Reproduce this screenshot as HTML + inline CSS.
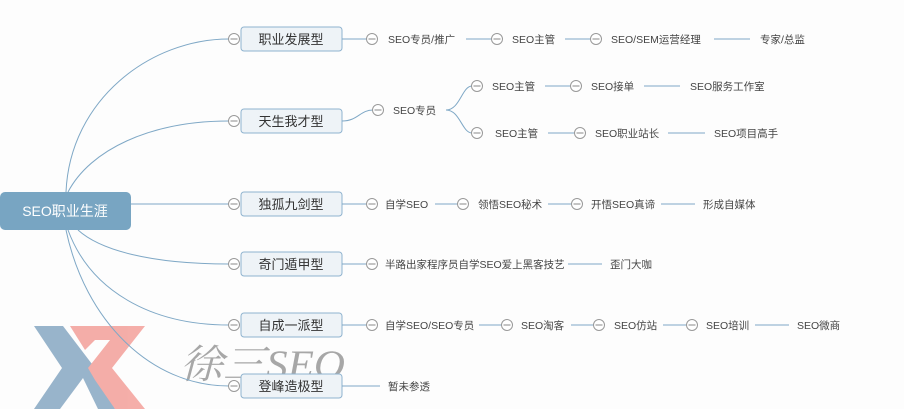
<!DOCTYPE html>
<html><head><meta charset="utf-8"><style>
html,body{margin:0;padding:0;background:#fdfdfd;}
svg{display:block;font-family:"Liberation Sans","Noto Sans CJK SC",sans-serif;}
.t{font-size:10.5px;fill:#444;}
.b{font-size:13px;fill:#333;}
.l{stroke:#7fa8c6;stroke-width:1;fill:none;}
.c{fill:#fff;stroke:#999;stroke-width:1;}
</style></head><body>
<svg width="904" height="409" viewBox="0 0 904 409" xmlns="http://www.w3.org/2000/svg">
<defs>
<g id="ci"><circle class="c" cx="0" cy="0" r="5.5"/><line x1="-3.5" y1="0" x2="3.5" y2="0" stroke="#888" stroke-width="1"/></g>
</defs>
<!-- watermark -->
<g opacity="0.8">
<polygon points="34,326 63,326 95,368 115,409 34,409 62,368" fill="#7fa2bf"/>
<polygon points="60,409 83,378 98,409" fill="#fdfdfd"/>
<polygon points="70,326 145,326 112,368 145,409 115,409 95,380 88,368 110,340 95,340 85,350" fill="#f29a94"/>
</g>
<text x="180" y="378" font-size="40" font-style="italic" fill="#999" opacity="0.85" textLength="165" lengthAdjust="spacingAndGlyphs" font-family="'Liberation Serif','Noto Serif CJK SC',serif">徐三SEO</text>
<!-- connectors root -->
<path class="l" d="M66,192 C70,100 150,39 229,39"/>
<path class="l" d="M68,192 C90,150 150,121 229,121"/>
<path class="l" d="M131,204 L229,204"/>
<path class="l" d="M78,230 C100,250 150,264 229,264"/>
<path class="l" d="M68,230 C90,290 150,325 229,325"/>
<path class="l" d="M66,230 C85,320 150,386 229,386"/>
<!-- root -->
<rect x="0" y="192" width="131" height="38" rx="5" fill="#78a5c2"/>
<text x="65" y="216" text-anchor="middle" font-size="14" fill="#fff">SEO职业生涯</text>
<!-- branch boxes -->
<g>
<rect x="241" y="27" width="101" height="24" rx="3" fill="#eef3f7" stroke="#8fb3cf"/>
<text class="b" x="291" y="44" text-anchor="middle">职业发展型</text>
<rect x="241" y="109" width="101" height="24" rx="3" fill="#eef3f7" stroke="#8fb3cf"/>
<text class="b" x="291" y="126" text-anchor="middle">天生我才型</text>
<rect x="241" y="192" width="101" height="24" rx="3" fill="#eef3f7" stroke="#8fb3cf"/>
<text class="b" x="291" y="209" text-anchor="middle">独孤九剑型</text>
<rect x="241" y="252" width="101" height="24" rx="3" fill="#eef3f7" stroke="#8fb3cf"/>
<text class="b" x="291" y="269" text-anchor="middle">奇门遁甲型</text>
<rect x="241" y="313" width="101" height="24" rx="3" fill="#eef3f7" stroke="#8fb3cf"/>
<text class="b" x="291" y="330" text-anchor="middle">自成一派型</text>
<rect x="241" y="374" width="101" height="24" rx="3" fill="#eef3f7" stroke="#8fb3cf"/>
<text class="b" x="291" y="391" text-anchor="middle">登峰造极型</text>
</g>
<use href="#ci" x="234" y="39"/><use href="#ci" x="234" y="121"/><use href="#ci" x="234" y="204"/>
<use href="#ci" x="234" y="264"/><use href="#ci" x="234" y="325"/><use href="#ci" x="234" y="386"/>
<!-- row1 -->
<path class="l" d="M342,39 H367 M466,39 H492 M565,39 H591 M714,39 H750"/>
<use href="#ci" x="372" y="39"/><text class="t" x="388" y="43">SEO专员/推广</text>
<use href="#ci" x="497" y="39"/><text class="t" x="512" y="43">SEO主管</text>
<use href="#ci" x="596" y="39"/><text class="t" x="611" y="43">SEO/SEM运营经理</text>
<text class="t" x="760" y="43">专家/总监</text>
<!-- row2 -->
<path class="l" d="M342,121 C358,121 360,110 373,110"/>
<use href="#ci" x="378" y="110"/><text class="t" x="393" y="114">SEO专员</text>
<path class="l" d="M446,110 C460,110 462,86 472,86 M446,110 C460,110 462,133 472,133"/>
<use href="#ci" x="477" y="86"/><text class="t" x="492" y="90">SEO主管</text>
<path class="l" d="M545,86 H571 M644,86 H680"/>
<use href="#ci" x="576" y="86"/><text class="t" x="591" y="90">SEO接单</text>
<text class="t" x="690" y="90">SEO服务工作室</text>
<use href="#ci" x="477" y="133"/><text class="t" x="495" y="137">SEO主管</text>
<path class="l" d="M548,133 H575 M668,133 H705"/>
<use href="#ci" x="580" y="133"/><text class="t" x="595" y="137">SEO职业站长</text>
<text class="t" x="714" y="137">SEO项目高手</text>
<!-- row3 -->
<path class="l" d="M342,204 H367 M435,204 H458 M548,204 H572 M661,204 H695"/>
<use href="#ci" x="372" y="204"/><text class="t" x="385" y="208">自学SEO</text>
<use href="#ci" x="463" y="204"/><text class="t" x="478" y="208">领悟SEO秘术</text>
<use href="#ci" x="577" y="204"/><text class="t" x="591" y="208">开悟SEO真谛</text>
<text class="t" x="703" y="208">形成自媒体</text>
<!-- row4 -->
<path class="l" d="M342,264 H367 M568,264 H602"/>
<use href="#ci" x="372" y="264"/><text class="t" x="385" y="268">半路出家程序员自学SEO爱上黑客技艺</text>
<text class="t" x="610" y="268">歪门大咖</text>
<!-- row5 -->
<path class="l" d="M342,325 H367 M479,325 H502 M571,325 H594 M663,325 H687 M755,325 H789"/>
<use href="#ci" x="372" y="325"/><text class="t" x="385" y="329">自学SEO/SEO专员</text>
<use href="#ci" x="507" y="325"/><text class="t" x="521" y="329">SEO淘客</text>
<use href="#ci" x="599" y="325"/><text class="t" x="614" y="329">SEO仿站</text>
<use href="#ci" x="692" y="325"/><text class="t" x="706" y="329">SEO培训</text>
<text class="t" x="797" y="329">SEO微商</text>
<!-- row6 -->
<path class="l" d="M342,386 H380"/>
<text class="t" x="388" y="390">暂未参透</text>
</svg>
</body></html>
